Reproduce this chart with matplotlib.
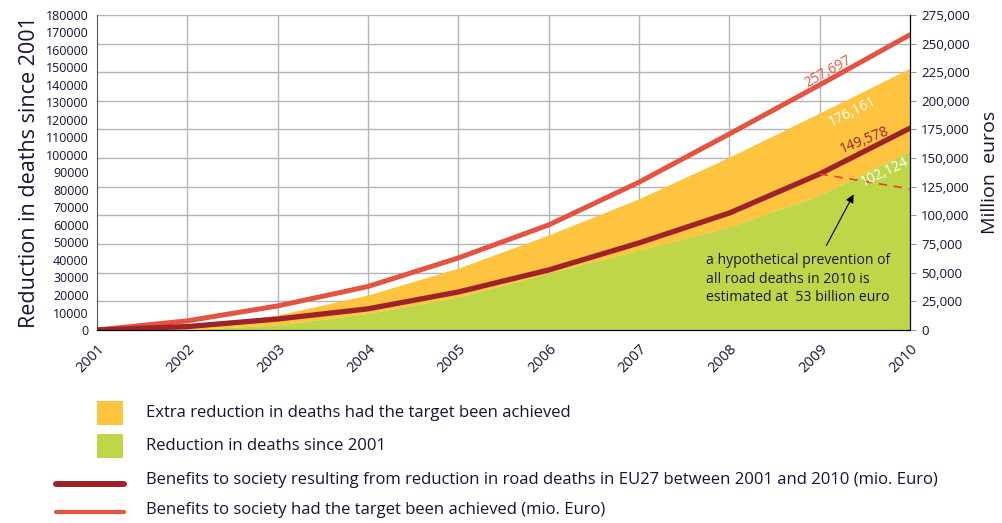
import numpy as np
import matplotlib
matplotlib.use("Agg")
import matplotlib.pyplot as plt
from matplotlib.patches import Rectangle
from matplotlib.lines import Line2D
from matplotlib.ticker import FuncFormatter

plt.rcParams['font.family'] = ['Open Sans', 'DejaVu Sans']

#%% data
years = [2001, 2002, 2003, 2004, 2005, 2006, 2007, 2008, 2009, 2010]
deaths_reduced = [0, 300, 2900, 9500, 18900, 32600, 45700, 58900, 77100, 102124]      # left axis
deaths_target = [0, 1500, 8600, 20000, 35400, 54300, 75000, 98800, 124000, 149578]    # left axis
benefits = [0, 3000, 9600, 18500, 33200, 52400, 76000, 102100, 136200, 176161]        # right axis, mio euro
benefits_target = [0, 8000, 21000, 38000, 62900, 91700, 129000, 171100, 213900, 257697]
hypo_years = [2009, 2010]
hypo_vals = [136200, 123161]   # 176,161 - 53,000

left_ticks = np.arange(0, 180001, 10000)
right_ticks = np.arange(0, 275001, 25000)

c_orange = '#FEC33F'
c_green = '#BED648'
c_dred = '#9E2229'
c_red = '#E35441'
c_txt = '#141433'

#%% figure
fig = plt.figure(figsize=(10.02, 5.23), dpi=100)
ax = fig.add_axes([0.0968, 0.369, 0.8114, 0.6025])
ax2 = ax.twinx()

# grid (drawn under the areas)
for v in right_ticks[1:]:
    ax.axhline(v * 180000 / 275000, color='#b4b4b4', lw=1, zorder=0)
for yr in years[1:-1]:
    ax.axvline(yr, color='#b4b4b4', lw=1, zorder=0)

ax.fill_between(years, deaths_reduced, deaths_target, color=c_orange, lw=0, zorder=1)
ax.fill_between(years, 0, deaths_reduced, color=c_green, lw=0, zorder=1)

ax2.plot(years, benefits_target, color=c_red, lw=3.6, solid_capstyle='round')
ax2.plot(years, benefits, color=c_dred, lw=3.8, solid_capstyle='round')
ax2.plot(hypo_years, hypo_vals, color='#E8402E', lw=1.2, ls=(0, (5, 4)))

ax.set_xlim(2001, 2010)
ax.set_ylim(0, 180000)
ax2.set_ylim(0, 275000)

ax.set_yticks(left_ticks)
ax.set_yticklabels([str(v) for v in left_ticks])
ax2.set_yticks(right_ticks)
ax2.yaxis.set_major_formatter(FuncFormatter(lambda v, p: '{:,}'.format(int(v))))

ax.set_xticks(years)
ax.set_xticklabels([str(y) for y in years], rotation=45, ha='right',
                   rotation_mode='anchor', fontsize=10.5, color=c_txt)
ax.tick_params(axis='x', length=0, pad=8)
ax.tick_params(axis='y', length=0, labelsize=9, colors=c_txt, pad=6)
ax2.tick_params(axis='y', length=4, color='#999999', labelsize=9.5, labelcolor=c_txt, pad=4)

for a in (ax, ax2):
    a.spines['top'].set_visible(False)
ax.spines['left'].set_color('#555555')
ax2.spines['left'].set_visible(False)
ax2.spines['right'].set_color('black')
ax.spines['bottom'].set_color('black')
ax.spines['bottom'].set_zorder(3)

ax.set_ylabel('Reduction in deaths since 2001', fontsize=15.5, color=c_txt, labelpad=4)
ax2.set_ylabel('Million  euros', fontsize=14, color=c_txt, labelpad=8)

# value labels
ax2.text(2009.09, 225200, '257,697', color=c_red, fontsize=10, rotation=29, ha='center', va='center')
ax2.text(2009.36, 190300, '176,161', color='white', fontsize=10, rotation=26, ha='center', va='center')
ax2.text(2009.50, 165900, '149,578', color=c_dred, fontsize=10, rotation=22, ha='center', va='center')
ax2.text(2009.72, 137900, '102,124', color='white', fontsize=10, rotation=25, ha='center', va='center')

ax2.annotate('', xy=(2009.39, 120500), xytext=(2009.06, 71600),
             arrowprops=dict(arrowstyle='-|>', color='black', lw=0.8, mutation_scale=12))
ax2.text(2007.74, 67000, 'a hypothetical prevention of\nall road deaths in 2010 is\nestimated at  53 billion euro',
         fontsize=10.1, color='#1a1a1a', ha='left', va='top', linespacing=1.3)

#%% legend drawn by hand under the chart
fig.add_artist(Rectangle((0.0968, 0.1874), 0.026, 0.0459, transform=fig.transFigure, color=c_orange, lw=0))
fig.add_artist(Rectangle((0.0968, 0.1243), 0.026, 0.0459, transform=fig.transFigure, color=c_green, lw=0))
fig.add_artist(Line2D([0.056, 0.124], [0.0746, 0.0746], transform=fig.transFigure,
                      color=c_dred, lw=4.3, solid_capstyle='round'))
fig.add_artist(Line2D([0.056, 0.124], [0.021, 0.021], transform=fig.transFigure,
                      color=c_red, lw=3, solid_capstyle='round'))

leg_txt = ['Extra reduction in deaths had the target been achieved',
           'Reduction in deaths since 2001',
           'Benefits to society resulting from reduction in road deaths in EU27 between 2001 and 2010 (mio. Euro)',
           'Benefits to society had the target been achieved (mio. Euro)']
leg_y = [0.2103, 0.147, 0.0822, 0.0249]
for t, y in zip(leg_txt, leg_y):
    fig.text(0.1457, y, t, fontsize=12, color=c_txt, va='center', ha='left')

fig.savefig('out.png', dpi=100)
